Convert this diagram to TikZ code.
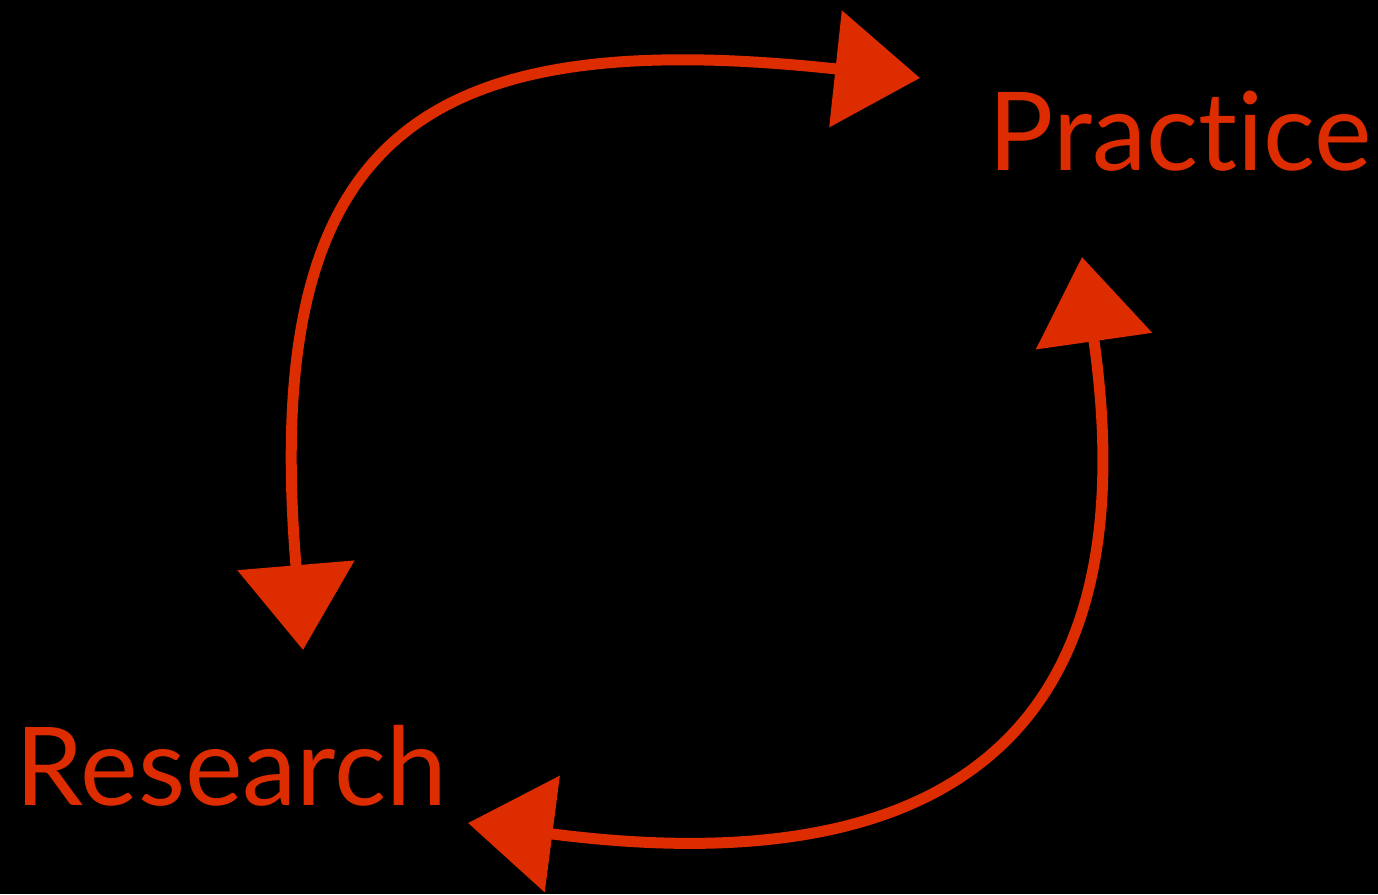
\documentclass[tikz,border=0pt]{standalone}
\usepackage{fontspec}
\setmainfont[Ligatures=NoCommon]{Lato}
\usetikzlibrary{arrows.meta}
\definecolor{cyclered}{HTML}{DD2C00}
\begin{document}
\begin{tikzpicture}[
    word/.style={font=\fontsize{31}{37}\selectfont, text=cyclered, inner sep=0pt},
    cycle/.style={line width=1.1mm, cyclered, line cap=round,
        {Triangle[length=8.5mm, width=11.5mm]}-{Triangle[length=8.5mm, width=11.5mm]}}
]

% Background
\fill[black] (0,0) rectangle (13.78,8.94);
\useasboundingbox (0,0) rectangle (13.78,8.94);

% Labels
\node[word, anchor=base west] (practice) at (9.88,7.24) {Practice};
\node[word, anchor=base west] (research) at (0.15,0.89) {Research};

% Arrow ends
\coordinate (left down) at (3.03,2.44);
\coordinate (top right) at (9.20,8.16);
\coordinate (right up) at (10.82,6.37);
\coordinate (bottom left) at (4.68,0.71);

% Cycle arrows
\draw[cycle] (left down) .. controls (2.6,7.6) and (4.2,8.7) .. (top right);
\draw[cycle] (right up) .. controls (11.6,0.9) and (8.6,0.2) .. (bottom left);

\end{tikzpicture}
\end{document}
